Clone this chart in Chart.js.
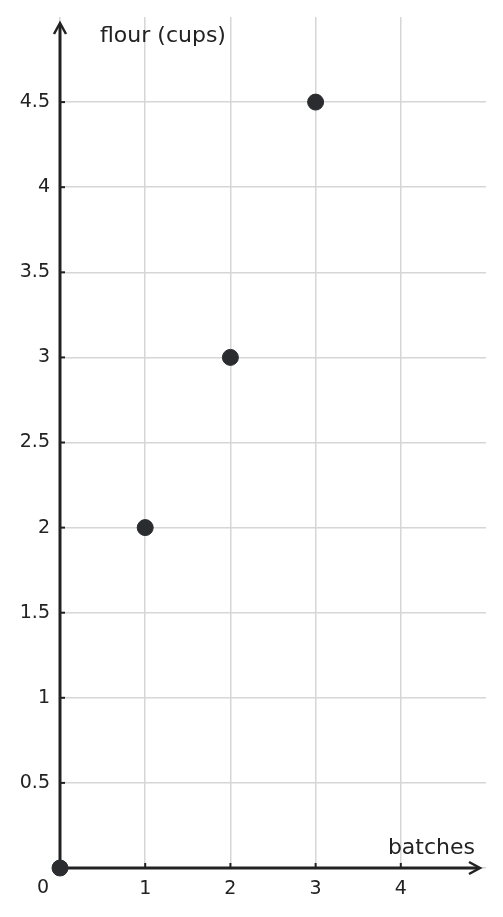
<!DOCTYPE html>
<html>
<head>
<meta charset="utf-8">
<script src="https://cdn.jsdelivr.net/npm/chart.js@4"></script>
<style>
  html, body { margin: 0; padding: 0; background: #fff; }
  canvas { display: block; }
</style>
</head>
<body>
<canvas id="chart" width="503" height="917"></canvas>
<script>
// data
const batches = [0, 1, 2, 3];
const flour = [0, 2, 3, 4.5];
const xTicks = [1, 2, 3, 4];
const yTicks = [0.5, 1, 1.5, 2, 2.5, 3, 3.5, 4, 4.5];
const xTitle = 'batches';
const yTitle = 'flour (cups)';

const ink = '#222';
const gridGray = '#d6d6d6';
const fontFamily = '"DejaVu Sans", sans-serif';

// axes with arrows, little inner tick marks, the lone "0" and the titles
const axesPlugin = {
  id: 'axes',
  beforeDatasetsDraw(chart) {
    const ctx = chart.ctx;
    const xs = chart.scales.x, ys = chart.scales.y;
    const x0 = xs.getPixelForValue(0), y0 = ys.getPixelForValue(0);
    const area = chart.chartArea;
    ctx.save();
    ctx.strokeStyle = ink;
    ctx.lineCap = 'butt';
    ctx.lineJoin = 'miter';

    // y axis + arrow
    ctx.lineWidth = 3;
    ctx.beginPath();
    ctx.moveTo(x0, y0);
    ctx.lineTo(x0, area.top + 7);
    ctx.stroke();
    ctx.lineWidth = 2.5;
    ctx.beginPath();
    ctx.moveTo(x0 - 6, area.top + 17);
    ctx.lineTo(x0, area.top + 6);
    ctx.lineTo(x0 + 6, area.top + 17);
    ctx.stroke();

    // x axis + arrow
    ctx.lineWidth = 3;
    ctx.beginPath();
    ctx.moveTo(x0, y0);
    ctx.lineTo(area.right - 7, y0);
    ctx.stroke();
    ctx.lineWidth = 2.5;
    ctx.beginPath();
    ctx.moveTo(area.right - 17, y0 - 6);
    ctx.lineTo(area.right - 6, y0);
    ctx.lineTo(area.right - 17, y0 + 6);
    ctx.stroke();

    // tick marks pointing inward
    ctx.lineWidth = 2;
    xTicks.forEach(v => {
      const px = xs.getPixelForValue(v);
      ctx.beginPath();
      ctx.moveTo(px, y0);
      ctx.lineTo(px, y0 - 5);
      ctx.stroke();
    });
    yTicks.forEach(v => {
      const py = ys.getPixelForValue(v);
      ctx.beginPath();
      ctx.moveTo(x0, py);
      ctx.lineTo(x0 + 5, py);
      ctx.stroke();
    });

    // origin label
    ctx.fillStyle = ink;
    ctx.font = '19px ' + fontFamily;
    ctx.textAlign = 'center';
    ctx.textBaseline = 'middle';
    ctx.fillText('0', x0 - 17, y0 + 20);

    // axis titles
    ctx.font = '22px ' + fontFamily;
    ctx.textAlign = 'left';
    ctx.fillText(yTitle, x0 + 40, area.top + 19);
    ctx.textAlign = 'right';
    ctx.fillText(xTitle, area.right - 11, y0 - 20);
    ctx.restore();
  }
};

new Chart(document.getElementById('chart'), {
  type: 'scatter',
  data: {
    datasets: [{
      data: batches.map((b, i) => ({ x: b, y: flour[i] })),
      backgroundColor: '#2b2c30',
      borderColor: '#2b2c30',
      pointRadius: 8,
      pointHoverRadius: 8,
      clip: false
    }]
  },
  options: {
    responsive: false,
    devicePixelRatio: 1,
    animation: false,
    layout: { padding: { top: 17, right: 17, left: 0, bottom: 0 } },
    plugins: { legend: { display: false }, tooltip: { enabled: false } },
    scales: {
      x: {
        type: 'linear',
        min: 0,
        max: 5,
        afterFit: s => { s.height = 49; s.paddingLeft = 0; s.paddingRight = 0; },
        border: { display: false },
        grid: {
          drawTicks: false,
          lineWidth: 1.5,
          color: c => (c.tick && c.tick.value === 5) ? 'rgba(0,0,0,0)' : gridGray
        },
        ticks: {
          stepSize: 1,
          autoSkip: false,
          maxRotation: 0,
          padding: 10,
          color: ink,
          font: { family: fontFamily, size: 19 },
          callback: v => xTicks.includes(v) ? String(v) : ''
        }
      },
      y: {
        type: 'linear',
        min: 0,
        max: 5,
        afterFit: s => { s.width = 60; s.paddingTop = 0; s.paddingBottom = 0; },
        border: { display: false },
        grid: {
          drawTicks: false,
          lineWidth: 1.5,
          color: c => (c.tick && c.tick.value === 5) ? 'rgba(0,0,0,0)' : gridGray
        },
        ticks: {
          stepSize: 0.5,
          autoSkip: false,
          padding: 10,
          color: ink,
          font: { family: fontFamily, size: 19 },
          callback: v => yTicks.includes(v) ? String(v) : ''
        }
      }
    }
  },
  plugins: [axesPlugin]
});
</script>
</body>
</html>
